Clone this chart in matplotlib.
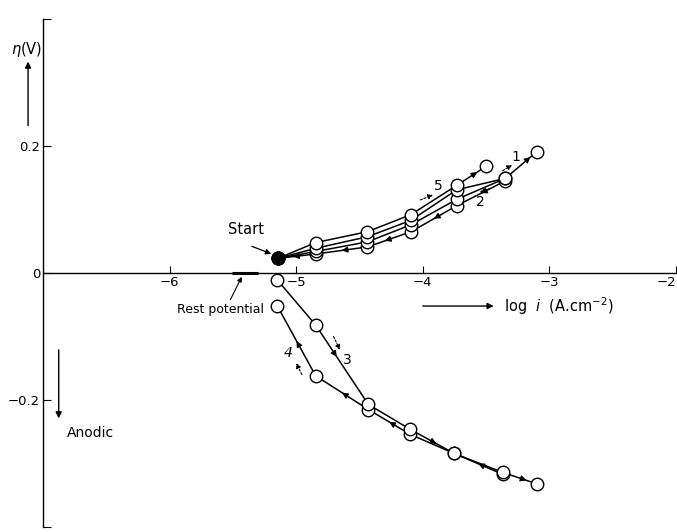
import matplotlib
matplotlib.use("Agg")
import matplotlib.pyplot as plt
import numpy as np

plt.rcParams['font.family'] = ['DejaVu Sans']

# ---- data (log i, eta) ----
start_x, start_y = -5.146, 0.023

c1_x = [-5.146, -4.844, -4.438, -4.093, -3.732, -3.348, -3.100]
c1_y = [0.023, 0.039, 0.057, 0.083, 0.131, 0.149, 0.191]

c2_x = [-3.348, -3.732, -4.093, -4.438, -4.844, -5.146]
c2_y = [0.145, 0.106, 0.065, 0.041, 0.030, 0.023]

c2b_x = [-3.348, -3.732, -4.093, -4.438, -4.844, -5.146]
c2b_y = [0.149, 0.116, 0.076, 0.049, 0.034, 0.023]

c5_x = [-5.146, -4.844, -4.438, -4.093, -3.732, -3.500]
c5_y = [0.023, 0.048, 0.065, 0.092, 0.138, 0.168]

c3_x = [-5.149, -4.846, -4.430, -4.101, -3.754, -3.369, -3.100]
c3_y = [-0.011, -0.082, -0.207, -0.246, -0.284, -0.314, -0.332]

c4_x = [-3.369, -3.754, -4.101, -4.430, -4.846, -5.149]
c4_y = [-0.317, -0.284, -0.254, -0.215, -0.162, -0.052]

x_ticks = [-6, -5, -4, -3, -2]
x_tick_labels = ['\u22126', '\u22125', '\u22124', '\u22123', '\u22122']
y_ticks = [-0.4, -0.2, 0, 0.2, 0.4]
y_tick_labels = ['', '\u22120.2', '0', '0.2', '']

fig = plt.figure(figsize=(6.77, 5.32), dpi=100)
ax = fig.add_axes([43/677, 5/532, 633/677, 508/532])
ax.set_xlim(-7, -2)
ax.set_ylim(-0.4, 0.4)

ax.spines['top'].set_visible(False)
ax.spines['right'].set_visible(False)
ax.spines['bottom'].set_position(('data', 0))
for s in ('left', 'bottom'):
    ax.spines[s].set_linewidth(1.0)

ax.set_xticks(x_ticks)
ax.set_xticklabels(x_tick_labels, fontsize=9.5)
ax.tick_params(axis='x', direction='in', length=5, pad=2)
ax.get_xticklabels()[-1].set_horizontalalignment('right')
ax.set_yticks(y_ticks)
ax.set_yticklabels(y_tick_labels, fontsize=9.5)
ax.tick_params(axis='y', direction='in', length=6, pad=2)

mk = dict(marker='o', markersize=9, markerfacecolor='white',
          markeredgecolor='black', markeredgewidth=1.0, color='black', lw=1.1)

for xs, ys in [(c2_x, c2_y), (c2b_x, c2b_y), (c1_x, c1_y), (c5_x, c5_y),
               (c4_x, c4_y), (c3_x, c3_y)]:
    ax.plot(xs, ys, zorder=3, **mk)

ax.plot([start_x], [start_y], marker='o', markersize=9, color='black', zorder=5)


def seg_arrow(xs, ys, i, t=0.55):
    x0, y0 = xs[i], ys[i]
    x1, y1 = xs[i + 1], ys[i + 1]
    xa = x0 + (x1 - x0) * (t - 0.05)
    ya = y0 + (y1 - y0) * (t - 0.05)
    xb = x0 + (x1 - x0) * t
    yb = y0 + (y1 - y0) * t
    ax.annotate('', xy=(xb, yb), xytext=(xa, ya),
                arrowprops=dict(arrowstyle='-|>', color='black', lw=0.8,
                                mutation_scale=9, shrinkA=0, shrinkB=0), zorder=4)


seg_arrow(c1_x, c1_y, 5, 0.8)
seg_arrow(c5_x, c5_y, 4, 0.7)
seg_arrow(c2_x, c2_y, 0, 0.5)
seg_arrow(c2_x, c2_y, 1, 0.5)
seg_arrow(c2_x, c2_y, 2, 0.6)
seg_arrow(c2_x, c2_y, 3, 0.5)
seg_arrow(c2_x, c2_y, 4, 0.6)
seg_arrow(c3_x, c3_y, 1, 0.4)
seg_arrow(c3_x, c3_y, 3, 0.6)
seg_arrow(c3_x, c3_y, 5, 0.7)
seg_arrow(c4_x, c4_y, 0, 0.5)
seg_arrow(c4_x, c4_y, 2, 0.5)
seg_arrow(c4_x, c4_y, 3, 0.5)
seg_arrow(c4_x, c4_y, 4, 0.5)

# curve labels with dashed direction arrows
lab_kw = dict(fontsize=10, ha='center', va='center')
ax.text(-3.264, 0.183, '1', **lab_kw)
ax.text(-3.543, 0.112, '2', **lab_kw)
ax.text(-3.877, 0.137, '5', **lab_kw)
ax.text(-4.60, -0.137, '3', fontsize=10, ha='center', va='center')
ax.text(-5.06, -0.126, '4', fontsize=10, ha='center', va='center', style='italic')

dash = dict(arrowstyle='-|>', color='black', lw=0.8, ls=(0, (2, 1.5)),
            mutation_scale=7, shrinkA=0, shrinkB=0)
ax.annotate('', xy=(-3.295, 0.170), xytext=(-3.37, 0.161), arrowprops=dash)
ax.annotate('', xy=(-3.55, 0.127), xytext=(-3.47, 0.133), arrowprops=dash)
ax.annotate('', xy=(-3.92, 0.123), xytext=(-4.02, 0.115), arrowprops=dash)
ax.annotate('', xy=(-4.655, -0.121), xytext=(-4.705, -0.100), arrowprops=dash)
ax.annotate('', xy=(-5.00, -0.142), xytext=(-4.955, -0.160), arrowprops=dash)

# Start annotation
ax.text(-5.40, 0.068, 'Start', fontsize=10.5, ha='center', va='center')
ax.annotate('', xy=(start_x - 0.01, start_y + 0.004), xytext=(-5.35, 0.042),
            arrowprops=dict(arrowstyle='-|>', color='black', lw=0.9,
                            mutation_scale=8, shrinkA=0, shrinkB=4))

# Rest potential
ax.plot([-5.51, -5.30], [0, 0], color='black', lw=2.2, solid_capstyle='butt', zorder=4)
ax.text(-5.60, -0.058, 'Rest potential', fontsize=9, ha='center', va='center')
ax.annotate('', xy=(-5.43, -0.006), xytext=(-5.52, -0.042),
            arrowprops=dict(arrowstyle='-|>', color='black', lw=0.8,
                            mutation_scale=7, shrinkA=0, shrinkB=0))

# x-axis label with arrow
ax.annotate('', xy=(-3.44, -0.052), xytext=(-4.00, -0.052),
            arrowprops=dict(arrowstyle='-|>', color='black', lw=1.0,
                            mutation_scale=9, shrinkA=0, shrinkB=0))
ax.text(-3.36, -0.052, 'log  $i$  (A.cm$^{-2}$)', fontsize=10.5, ha='left', va='center')

# y-axis label and arrows
ax.text(-7.13, 0.352, '$\\eta$(V)', fontsize=10.5, ha='center', va='center', clip_on=False)
ax.annotate('', xy=(-7.118, 0.333), xytext=(-7.118, 0.232),
            arrowprops=dict(arrowstyle='-|>', color='black', lw=1.0,
                            mutation_scale=9, shrinkA=0, shrinkB=0),
            annotation_clip=False)
ax.annotate('', xy=(-6.876, -0.229), xytext=(-6.876, -0.121),
            arrowprops=dict(arrowstyle='-|>', color='black', lw=1.0,
                            mutation_scale=9, shrinkA=0, shrinkB=0))
ax.text(-6.81, -0.252, 'Anodic', fontsize=10, ha='left', va='center')

fig.savefig('out.png', dpi=100)
